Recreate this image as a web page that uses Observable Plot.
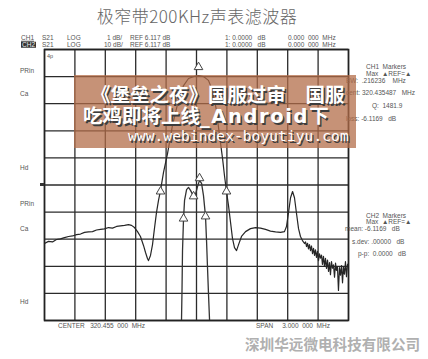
<!DOCTYPE html>
<html><head><meta charset="utf-8">
<script src="https://cdn.jsdelivr.net/npm/d3@7"></script>
<script src="https://cdn.jsdelivr.net/npm/@observablehq/plot@0.6"></script>
<style>
body{margin:0;background:#fff;}
#wrap{position:relative;width:428px;height:359px;overflow:hidden;font-family:"Liberation Sans",Arial,sans-serif;background:#fff;}
#wrap svg{position:absolute;left:0;top:0;}
.t{position:absolute;white-space:pre;color:#555;font-size:6.5px;line-height:1;transform:translateY(-50%);}
.title{position:absolute;left:197px;top:3px;transform:translateX(-50%);font-family:"Noto Sans CJK SC";font-weight:300;font-size:17px;color:#666;white-space:pre;letter-spacing:0.5px;}
.company{position:absolute;left:245px;top:337px;font-family:"Noto Sans CJK SC";font-weight:700;font-size:14.6px;color:#b0b0b0;white-space:pre;line-height:1;}
.wm{position:absolute;left:74px;top:75px;width:282px;height:73px;background:rgba(178,108,72,0.74);}
.wl{position:absolute;white-space:pre;color:#fff;font-family:"Noto Sans CJK SC";font-weight:700;line-height:1;text-shadow:1.5px 1.5px 0 #3d3d3d;}
.lat{font-family:"DejaVu Sans";font-weight:700;letter-spacing:1.6px;}
.inv{background:#333;color:#eee;padding:0 1px;}
</style></head><body><div id="wrap"></div>
<script>
// ---------- data ----------
const title = "极窄带200KHz声表滤波器";
const company = "深圳华远微电科技有限公司";
const headerRow1 = ["CH1", "S21", "LOG", "1 dB/", "REF 6.117 dB", "1: 0.0000   dB", "0.000  000  MHz"];
const headerRow2 = ["CH2", "S21", "LOG", "10 dB/", "REF 6.117 dB", "1: 0.0000   dB", "0.000  000  MHz"];
const sideLabels = ["PRin", "Ca", "Hd", "PRin", "Ca", "Hd"];
const ch1Box = ["CH1  Markers", "Max  ▲REF=▲", "BW:  .216236    MHz", "cent: 320.435487   MHz", "Q:  1481.9", "loss: -6.1169   dB"];
const ch2Box = ["CH2  Markers", "Max  ▲REF=▲", "mean: -6.1169   dB", "s.dev: .00000   dB", "p-p:  0.0000   dB"];
const footer = ["CENTER   320.455  000  MHz", "SPAN     3.000  000  MHz"];
const watermark1 = "《堡垒之夜》国服过审　国服";
const watermark2 = ["吃鸡即将上线", "_Android", "下"];
const watermark3 = "www.webindex-boyutiyu.com";

const centerMHz = 320.455, spanMHz = 3.0;
const ch2RefTop = 3.5, ch2PerDiv = 10;   // CH2: 10 dB/div
const ch1RefTop = -1.3, ch1PerDiv = 1;   // CH1: 1 dB/div

// CH2 (wide, 10 dB/div)
const ch2Freq = [318.955,318.994,319.034,319.073,319.113,319.152,319.192,319.232,319.271,319.310,319.350,319.389,319.429,319.468,319.508,319.547,319.587,319.626,319.666,319.705,319.745,319.784,319.814,319.843,319.873,319.902,319.932,319.952,319.971,319.981,320.001,320.021,320.040,320.060,320.080,320.100,320.129,320.169,320.218,320.277,320.327,320.376,320.425,320.475,320.524,320.573,320.613,320.652,320.682,320.712,320.731,320.751,320.771,320.791,320.810,320.830,320.850,320.870,320.899,320.939,320.988,321.037,321.087,321.136,321.185,321.235,321.284,321.323,321.343,321.363,321.383,321.403,321.422,321.442,321.462,321.481,321.501,
  321.521,321.531,321.541,321.551,321.560,321.570,321.580,321.590,321.600,321.610,321.620,321.629,321.639,321.649,321.659,321.669,321.679,321.689,321.698,321.708,321.718,321.728,321.738,321.748,321.758,321.768,321.777,321.787,321.797,321.807,321.817,321.827,321.836,321.846,321.856,321.866,321.876,321.886,321.896,321.905,321.915,321.925,321.935,321.945,321.955];
const ch2Db = [-68.1,-67.3,-67.5,-66.6,-66.4,-65.9,-65.5,-65.3,-64.8,-64.6,-64.0,-63.8,-63.7,-63.1,-62.9,-62.7,-62.2,-62.4,-61.8,-61.6,-61.4,-61.1,-61.4,-62.2,-63.7,-65.5,-68.8,-71.4,-73.6,-74.4,-72.5,-68.5,-62.6,-56.7,-52.2,-48.5,-41.9,-34.9,-24.5,-15.3,-9.8,-7.2,-6.5,-6.1,-6.5,-7.9,-11.6,-19.0,-28.2,-36.7,-43.0,-48.9,-54.1,-60.3,-66.2,-69.6,-70.7,-68.5,-65.5,-63.7,-62.6,-62.2,-62.4,-62.9,-63.5,-63.8,-64.0,-63.7,-61.8,-56.7,-51.2,-48.9,-51.2,-57.0,-62.6,-65.5,-67.0,
  -68.1,-67.5,-69.2,-68.0,-70.1,-68.5,-70.7,-69.0,-71.8,-69.9,-72.5,-70.4,-73.2,-71.0,-74.4,-71.9,-73.5,-72.4,-75.8,-72.8,-76.5,-73.6,-77.3,-74.2,-78.4,-75.1,-79.6,-74.8,-77.2,-76.0,-80.5,-75.3,-78.0,-76.6,-85.4,-77.0,-79.8,-76.2,-82.6,-76.9,-79.4,-74.8,-80.3,-75.9,-75.5];

// CH1 (narrow passband, 1 dB/div)
const ch1Freq = [320.302,320.307,320.312,320.317,320.327,320.337,320.357,320.376,320.396,320.426,320.445,320.465,320.485,320.505,320.524,320.544,320.554,320.564,320.574,320.584,320.589];
const ch1Db = [-11.85,-11.3,-10.19,-8.72,-7.54,-6.87,-6.47,-6.39,-6.50,-6.72,-6.65,-6.36,-6.13,-6.24,-6.69,-7.46,-8.35,-9.38,-10.38,-11.3,-11.85];

// markers
const ch2MarkFreq = [320.100, 320.751, 320.475];
const ch2MarkDb = [-48.9, -48.9, -3.0];
const ch1MarkFreq = [320.327, 320.544, 320.426, 320.485];
const ch1MarkDb = [-7.54, -7.46, -6.72, -6.05];

// ---------- build ----------
const toCh2 = v => ch2RefTop + (v - ch1RefTop) * ch2PerDiv / ch1PerDiv;
const ch2 = ch2Freq.map((f, i) => ({f, db: ch2Db[i]}));
const ch1 = ch1Freq.map((f, i) => ({f, db: ch1Db[i]}));
const marks2 = ch2MarkFreq.map((f, i) => ({f, db: ch2MarkDb[i]}));
const marks1 = ch1MarkFreq.map((f, i) => ({f, db: ch1MarkDb[i]}));
const x0 = centerMHz - spanMHz / 2, x1 = centerMHz + spanMHz / 2;
const y0 = ch2RefTop - 10 * ch2PerDiv, y1 = ch2RefTop;
const xGrid = d3.range(11).map(i => x0 + i * spanMHz / 10);
const yGrid = d3.range(11).map(i => y0 + i * ch2PerDiv);

const chart = Plot.plot({
  width: 428, height: 359,
  marginLeft: 44, marginRight: 80, marginTop: 49, marginBottom: 39,
  x: {domain: [x0, x1], axis: null},
  y: {domain: [y0, y1], axis: null},
  style: {background: "transparent"},
  marks: [
    Plot.ruleX(xGrid, {stroke: "#2b2b2b", strokeWidth: 1.3}),
    Plot.ruleY(yGrid, {stroke: "#2b2b2b", strokeWidth: 1.3}),
    Plot.line(ch2, {x: "f", y: "db", stroke: "#262626", strokeWidth: 1.2, clip: true}),
    Plot.line(ch1, {x: "f", y: d => toCh2(d.db), stroke: "#333", strokeWidth: 1.3, clip: true}),
    Plot.dot(marks2, {x: "f", y: "db", symbol: "triangle", r: 3.2, fill: "#fff", stroke: "#444", strokeWidth: 1}),
    Plot.dot(marks1, {x: "f", y: d => toCh2(d.db), symbol: "triangle", r: 3.2, fill: "#fff", stroke: "#444", strokeWidth: 1}),
    Plot.frame({stroke: "#222", strokeWidth: 1.6})
  ]
});
const wrap = document.getElementById("wrap");
wrap.appendChild(chart);

function put(text, x, y, extra = {}, cls = "t") {
  const d = document.createElement("div");
  d.className = cls;
  d.textContent = text;
  d.style.left = x + "px";
  d.style.top = y + "px";
  Object.assign(d.style, extra);
  wrap.appendChild(d);
  return d;
}
// title & company
const tt = document.createElement("div"); tt.className = "title"; tt.textContent = title; wrap.appendChild(tt);
const cc = document.createElement("div"); cc.className = "company"; cc.textContent = company; wrap.appendChild(cc);

// header rows
const hx = [21, 42, 67, 107, 130, 225, 288];
const hx2 = [21, 42, 67, 104, 130, 225, 288];
headerRow1.forEach((s, i) => put(s, hx[i], 38, i === 0 ? {textDecoration: "underline"} : {}));
headerRow2.forEach((s, i) => { const d = put(s, hx2[i], 44.5); if (i === 0) d.classList.add("inv"); });

// left side labels
const sy = [71, 94, 168, 204, 229, 302];
sideLabels.forEach((s, i) => put(s, 20, sy[i]));
const rm = document.createElement("div");
Object.assign(rm.style, {position: "absolute", left: "40px", top: "183px", width: "4px", height: "3px", background: "#333"});
wrap.appendChild(rm);
put("4p", 47, 57, {fontSize: "5.5px"});

// right marker boxes
const b1 = [[366, 67], [366, 74], [346, 81], [346, 93], [372, 106], [346, 119]];
ch1Box.forEach((s, i) => put(s, b1[i][0], b1[i][1]));
const b2 = [[366, 216], [366, 222], [345, 229], [352, 242], [358, 254]];
ch2Box.forEach((s, i) => put(s, b2[i][0], b2[i][1]));

// footer
put(footer[0], 58, 326);
put(footer[1], 256, 326);

// watermark overlay
const wm = document.createElement("div"); wm.className = "wm"; wrap.appendChild(wm);
put(watermark1, 91, 83.5, {fontSize: "19.5px", transform: "none"}, "wl");
const w2 = put("", 83, 105, {fontSize: "19.5px", transform: "none"}, "wl");
watermark2.forEach((s, i) => {
  const sp = document.createElement("span");
  sp.textContent = s;
  if (i === 1) sp.className = "lat";
  w2.appendChild(sp);
});
put(watermark3, 128, 128.5, {fontSize: "14.5px", transform: "none", fontFamily: "DejaVu Sans Mono", fontWeight: "400", letterSpacing: "0.1px"}, "wl");
</script>
</body></html>
